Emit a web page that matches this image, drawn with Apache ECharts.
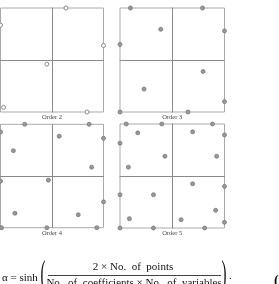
<!DOCTYPE html>
<html><head><meta charset="utf-8">
<script src="https://cdn.jsdelivr.net/npm/echarts@6/dist/echarts.min.js"></script>
<style>html,body{margin:0;padding:0;background:#fff}#c{width:279px;height:284px}</style>
</head><body><div id="c"></div>
<script>
var panelTitles = ['Order 2', 'Order 3', 'Order 4', 'Order 5'];
var order2 = [[0.27,1],[-1,0.67],[1,0.28],[-0.10,-0.08],[-0.94,-0.91],[0.68,-1]];
var order3 = [[-0.8,1],[0.58,1],[-0.22,0.59],[-1,0.3],[1,0.56],[0.59,-0.22],[-0.54,-0.56],[1,-0.8],[-1,-1],[0.3,-1]];
var order4 = [[-0.53,1],[0.72,1],[-1,0.85],[0.14,0.77],[1,0.73],[-0.75,0.49],[0.77,0.17],[-1,-0.1],[-0.07,-0.08],[1,-0.5],[-0.72,-0.72],[0.51,-0.75],[-0.98,-1],[-0.1,-1],[0.87,-1]];
var order5 = [[-0.88,1],[-0.2,1],[0.77,1],[-0.66,0.83],[0.39,0.85],[1,0.79],[-1,0.63],[-0.14,0.38],[0.85,0.38],[-0.84,0.17],[0.39,-0.15],[1,-0.2],[-1,-0.36],[-0.36,-0.36],[0.83,-0.66],[-0.82,-0.82],[0.17,-0.84],[1,-0.89],[-1,-1],[-0.36,-1],[0.62,-1]];
var panelData = [order2, order3, order4, order5];

var grids = [
  {left:0.5, top:8, width:103, height:104},
  {left:120, top:8, width:104.5, height:104},
  {left:0.5, top:124.3, width:103, height:103.4},
  {left:120, top:124, width:104.5, height:104}
];
var option = {animation:false, grid:[], xAxis:[], yAxis:[], series:[], graphic:[]};
grids.forEach(function(g,i){
  option.grid.push(Object.assign({show:true, borderColor:'#aaa', borderWidth:1, containLabel:false}, g));
  var ax = {gridIndex:i, type:'value', min:-1, max:1,
    axisLine:{show:true, onZero:true, lineStyle:{color:'#8a8a8a', width:1}},
    axisTick:{show:false}, axisLabel:{show:false}, splitLine:{show:false}};
  option.xAxis.push(Object.assign({}, ax));
  option.yAxis.push(Object.assign({}, ax));
  var hollow = i === 0;
  option.series.push({type:'scatter', xAxisIndex:i, yAxisIndex:i, data:panelData[i], clip:false, silent:true,
    symbol:'circle', symbolSize:4,
    itemStyle: hollow ? {color:'#fff', borderColor:'#888', borderWidth:1, opacity:1}
                      : {color:'#999', borderColor:'#777', borderWidth:0.8, opacity:1}});
  option.graphic.push({type:'text', x:g.left + g.width/2, y:g.top + g.height + 5.5,
    style:{text:panelTitles[i], font:'6.5px "Liberation Serif"', fill:'#444', align:'center', verticalAlign:'middle'}});
});
var serif = '"Liberation Serif"';
option.graphic.push(
  {type:'text', x:2, y:278, style:{text:'\u03b1 = sinh', font:'11px '+serif, fill:'#111', verticalAlign:'middle'}},
  {type:'text', x:40.5, y:276, scaleY:2.4, style:{text:'(', font:'15px '+serif, fill:'#111', verticalAlign:'middle'}},
  {type:'text', x:133, y:267.5, style:{text:'2 \u00d7 No.  of  points', font:'11px '+serif, fill:'#111', align:'center', verticalAlign:'middle'}},
  {type:'line', shape:{x1:48, y1:275.5, x2:221, y2:275.5}, style:{stroke:'#111', lineWidth:0.8}},
  {type:'text', x:134, y:283, style:{text:'No.  of  coefficients \u00d7 No.  of  variables', font:'11px '+serif, fill:'#111', align:'center', verticalAlign:'middle'}},
  {type:'text', x:221.5, y:276, scaleY:2.4, style:{text:')', font:'15px '+serif, fill:'#111', verticalAlign:'middle'}},
  {type:'text', x:229, y:276, style:{text:'.', font:'11px '+serif, fill:'#111', verticalAlign:'middle'}},
  {type:'text', x:274, y:281, style:{text:'(', font:'bold 14px '+serif, fill:'#111', verticalAlign:'middle'}}
);
var chart = echarts.init(document.getElementById('c'), null, {renderer:'canvas'});
chart.setOption(option);
</script></body></html>
